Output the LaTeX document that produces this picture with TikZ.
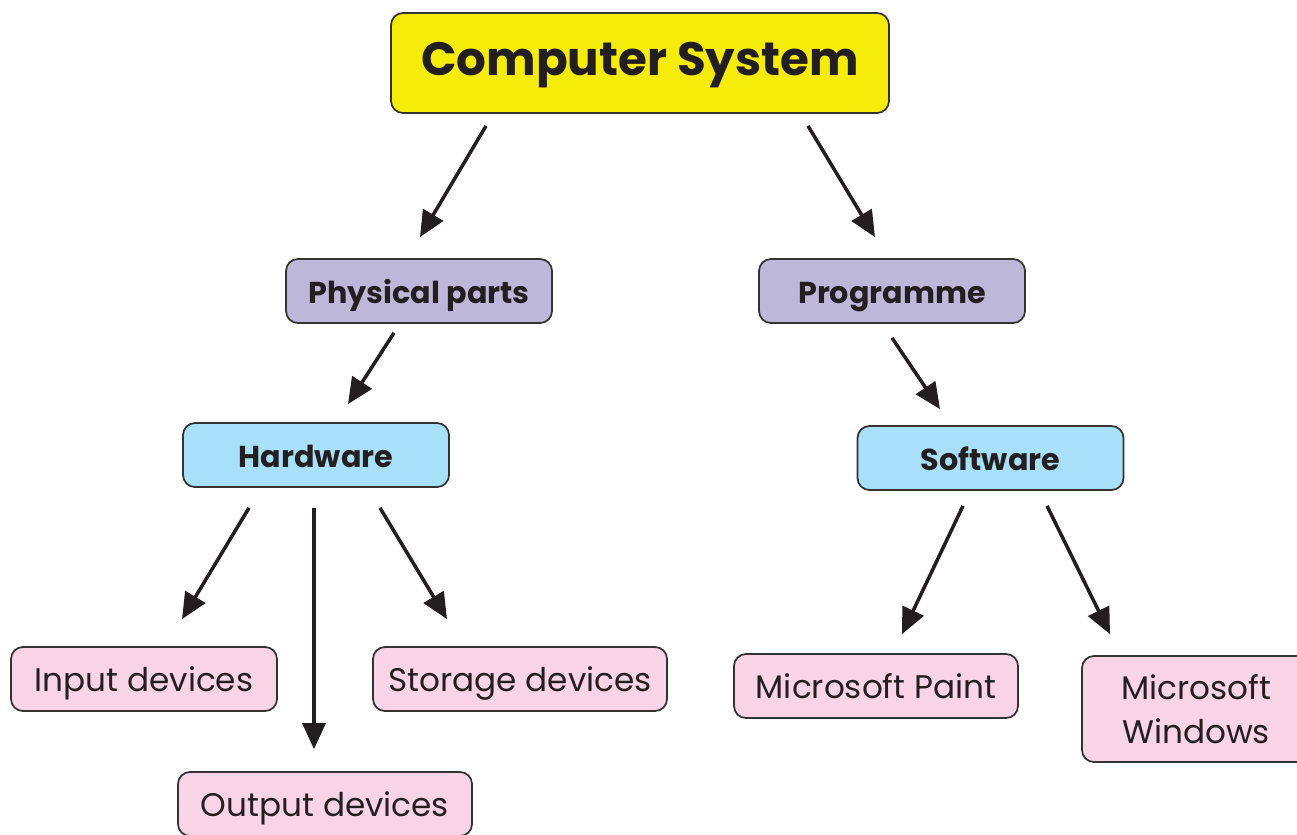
\documentclass[tikz,border=0pt]{standalone}
\usepackage{fontspec}
\setmainfont{Poppins}
\usetikzlibrary{arrows.meta}
\definecolor{titleyellow}{HTML}{F5EC0A}
\definecolor{partlilac}{HTML}{BDB8DA}
\definecolor{kindblue}{HTML}{A9E0F9}
\definecolor{itempink}{HTML}{F9D4E7}
\definecolor{inkdark}{HTML}{231F20}

\begin{document}
\begin{tikzpicture}[
box/.style={draw=black!80, line width=0.5pt, rounded corners=0.12cm, inner sep=0pt, align=center, text=inkdark},
onerow/.style={text height=0.72em, text depth=0pt},
titlebox/.style={box, onerow, fill=titleyellow, minimum width=4.98cm, minimum height=1cm, font=\bfseries\fontsize{13.3}{16}\selectfont},
partbox/.style={box, onerow, fill=partlilac, minimum width=2.66cm, minimum height=0.64cm, font=\bfseries\fontsize{8.6}{11}\selectfont},
kindbox/.style={box, onerow, fill=kindblue, minimum width=2.66cm, minimum height=0.64cm, font=\bfseries\fontsize{8.6}{11}\selectfont},
itembox/.style={box, fill=itempink, minimum width=2.66cm, minimum height=0.64cm, font=\fontsize{9.3}{12.5}\selectfont},
arr/.style={-{Triangle[length=0.26cm, width=0.23cm]}, line width=1pt, inkdark}]
\useasboundingbox (0,0) rectangle (12.97,-8.34);
\node[titlebox] (cs) at (6.40,-0.63) {Computer System};
\node[partbox] (phys) at (4.19,-2.91) {Physical parts};
\node[partbox] (prog) at (8.92,-2.91) {Programme};
\node[kindbox] (hard) at (3.16,-4.55) {Hardware};
\node[kindbox] (soft) at (9.905,-4.58) {Software};
\node[itembox, onerow] (input) at (1.44,-6.79) {Input devices};
\node[itembox, onerow, minimum width=2.94cm] (storage) at (5.20,-6.79) {Storage devices};
\node[itembox, onerow, minimum width=2.94cm] (output) at (3.25,-8.04) {Output devices};
\node[itembox, onerow, minimum width=2.84cm] (paint) at (8.76,-6.86) {Microsoft Paint};
\node[itembox, minimum width=2.28cm, minimum height=1.06cm] (windows) at (11.96,-7.09) {Microsoft\\Windows};
\draw[arr] ([xshift=-1.54cm, yshift=-0.12cm]cs.south) -- ([xshift=0.01cm, yshift=0.21cm]phys.north);
\draw[arr] ([xshift=1.68cm, yshift=-0.12cm]cs.south) -- ([xshift=-0.17cm, yshift=0.21cm]prog.north);
\draw[arr] ([xshift=-0.25cm, yshift=-0.09cm]phys.south) -- ([xshift=0.32cm, yshift=0.18cm]hard.north);
\draw[arr] ([yshift=-0.14cm]prog.south) -- ([xshift=-0.505cm, yshift=0.16cm]soft.north);
\draw[arr] ([xshift=-0.67cm, yshift=-0.2cm]hard.south) -- ([xshift=0.38cm, yshift=0.27cm]input.north);
\draw[arr] ([xshift=-0.02cm, yshift=-0.2cm]hard.south) -- ([xshift=-0.11cm, yshift=0.22cm]output.north);
\draw[arr] ([xshift=0.64cm, yshift=-0.2cm]hard.south) -- ([xshift=-0.73cm, yshift=0.27cm]storage.north);
\draw[arr] ([xshift=-0.275cm, yshift=-0.15cm]soft.south) -- ([xshift=0.26cm, yshift=0.19cm]paint.north);
\draw[arr] ([xshift=0.565cm, yshift=-0.15cm]soft.south) -- ([xshift=-0.86cm, yshift=0.21cm]windows.north);
\end{tikzpicture}
\end{document}
